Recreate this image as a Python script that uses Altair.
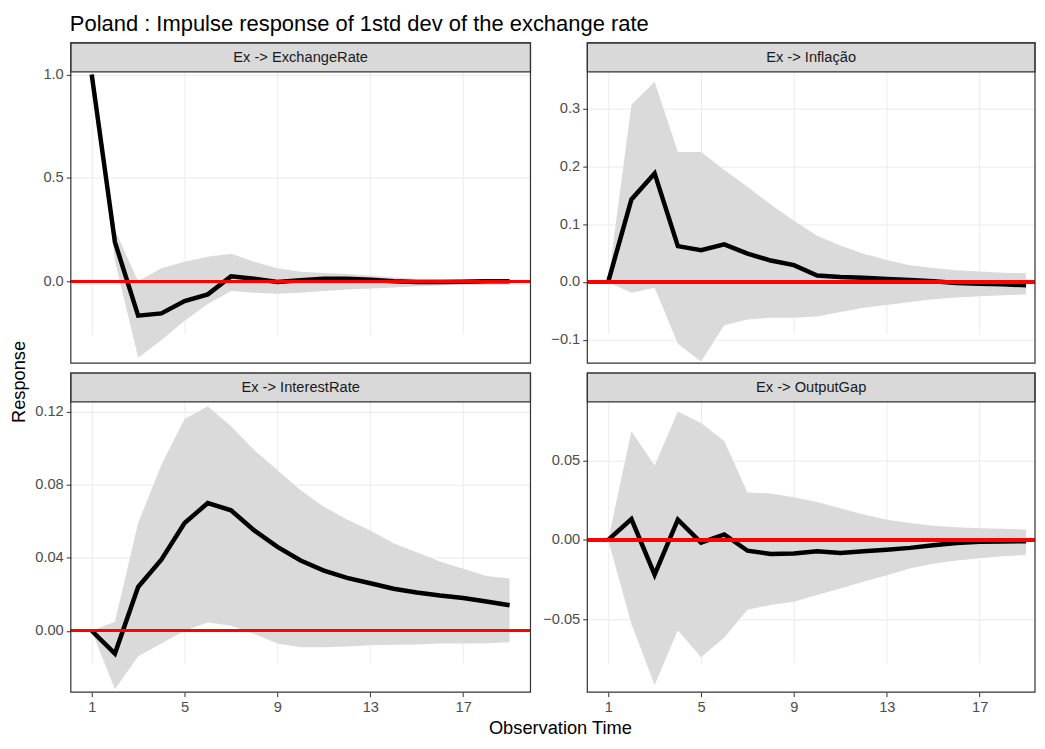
import altair as alt
import pandas as pd

FONT = "Liberation Sans"

t = list(range(1, 20))

# Ex -> ExchangeRate
er_resp = [1.0, 0.19, -0.166, -0.155, -0.095, -0.063, 0.024, 0.013, -0.003, 0.005,
           0.013, 0.013, 0.008, 0.0, -0.003, -0.003, -0.002, 0.0, 0.0]
er_lo = [1.0, 0.10, -0.37, -0.285, -0.19, -0.11, -0.047, -0.055, -0.06, -0.055,
         -0.047, -0.04, -0.035, -0.03, -0.024, -0.02, -0.017, -0.016, -0.015]
er_hi = [1.0, 0.25, 0.0, 0.063, 0.095, 0.119, 0.134, 0.095, 0.063, 0.047,
         0.04, 0.035, 0.028, 0.019, 0.013, 0.011, 0.01, 0.01, 0.01]

# Ex -> Inflação
inf_resp = [0.0, 0.143, 0.188, 0.062, 0.055, 0.065, 0.049, 0.037, 0.029, 0.011,
            0.0085, 0.007, 0.005, 0.0034, 0.001, -0.002, -0.003, -0.004, -0.006]
inf_lo = [0.0, -0.019, -0.01, -0.107, -0.138, -0.075, -0.065, -0.062, -0.062, -0.06,
          -0.052, -0.045, -0.04, -0.035, -0.03, -0.027, -0.025, -0.023, -0.022]
inf_hi = [0.0, 0.307, 0.347, 0.225, 0.225, 0.194, 0.165, 0.134, 0.106, 0.08,
          0.063, 0.049, 0.038, 0.029, 0.024, 0.020, 0.018, 0.016, 0.015]

# Ex -> InterestRate
ir_resp = [0.0, -0.0125, 0.024, 0.039, 0.059, 0.070, 0.066, 0.055, 0.046, 0.0385,
           0.033, 0.029, 0.026, 0.023, 0.021, 0.0193, 0.0179, 0.016, 0.014]
ir_lo = [0.0, -0.032, -0.014, -0.007, 0.0, 0.0045, 0.0027, -0.0018, -0.007, -0.009,
         -0.009, -0.0086, -0.008, -0.0077, -0.0075, -0.007, -0.007, -0.0068, -0.0063]
ir_hi = [0.0, 0.005, 0.059, 0.091, 0.116, 0.123, 0.112, 0.099, 0.088, 0.077,
         0.068, 0.061, 0.055, 0.048, 0.043, 0.038, 0.034, 0.030, 0.0286]

# Ex -> OutputGap
og_resp = [0.0, 0.0132, -0.0219, 0.0128, -0.0017, 0.0035, -0.0068, -0.0089, -0.0085, -0.0072,
           -0.0083, -0.0072, -0.0062, -0.005, -0.0033, -0.002, -0.0012, -0.001, -0.0008]
og_lo = [0.0, -0.053, -0.0915, -0.057, -0.074, -0.0616, -0.044, -0.041, -0.039, -0.0347,
         -0.0306, -0.0264, -0.0223, -0.018, -0.015, -0.013, -0.0116, -0.0103, -0.0095]
og_hi = [0.0, 0.0686, 0.047, 0.081, 0.0738, 0.0624, 0.030, 0.0293, 0.027, 0.024,
         0.020, 0.016, 0.0128, 0.0107, 0.009, 0.008, 0.0074, 0.007, 0.0066]

x_ticks = [1, 5, 9, 13, 17]

STRIP = 29
W_L, W_R = 461, 449
H1, H2 = 321, 320
E_L, E_R = 40, 46
X_DOM_L = [0.1, 19.9]
X_DOM_R = [0.1, 0.1 + W_R * 19.8 / W_L]


def panel(label, resp, lo, hi, ydom, yticks, yfmt, xdom, width, height, bottom, ext):
    df = pd.DataFrame({"t": t, "resp": resp, "lo": lo, "hi": hi})
    lab = pd.DataFrame({"label": [label]})
    if bottom:
        xaxis = alt.Axis(values=x_ticks, title=None, domain=False, grid=True,
                         gridColor="#ebebeb", labelFontSize=14.7, labelColor="#4d4d4d",
                         tickColor="#333333", tickSize=4.6, labelPadding=3, labelFont=FONT)
    else:
        xaxis = alt.Axis(values=x_ticks, title=None, domain=False, grid=True,
                         gridColor="#ebebeb", labels=False, ticks=False)
    xs = alt.Scale(domain=xdom, nice=False, zero=False)
    ys = alt.Scale(domain=ydom, nice=False, zero=False, range=[height, STRIP])
    yaxis = alt.Axis(values=yticks, format=yfmt, title=None, domain=False, grid=True,
                     gridColor="#ebebeb", labelFontSize=14.7, labelColor="#4d4d4d",
                     tickColor="#333333", tickSize=4.6, labelPadding=3, labelFont=FONT,
                     minExtent=ext, maxExtent=ext)
    X = alt.X("t:Q", scale=xs, axis=xaxis, title=None)
    base = alt.Chart(df)
    band = base.mark_area(color="#dadada").encode(
        x=X, y=alt.Y("lo:Q", scale=ys, axis=yaxis, title=None), y2="hi:Q")
    line = base.mark_line(color="black", strokeWidth=4.5).encode(
        x=X, y=alt.Y("resp:Q", scale=ys, axis=yaxis, title=None))
    zero = base.mark_rule(color="red", strokeWidth=2.5).encode(y=alt.datum(0))
    lc = alt.Chart(lab)
    strip = lc.mark_rect(fill="#d9d9d9", stroke="#333333", strokeWidth=1.2).encode(
        x=alt.value(0), x2=alt.value(width), y=alt.value(0), y2=alt.value(STRIP))
    stext = lc.mark_text(font=FONT, fontSize=14.7, color="#1a1a1a", baseline="middle",
                         align="center").encode(
        text="label:N", x=alt.value(width / 2), y=alt.value(STRIP / 2 + 1))
    border = lc.mark_rect(fill="transparent", stroke="#333333", strokeWidth=1.2).encode(
        x=alt.value(0), x2=alt.value(width), y=alt.value(0), y2=alt.value(height))
    return alt.layer(band, line, zero, strip, stext, border).properties(
        width=width, height=height)


tl = panel("Ex -> ExchangeRate", er_resp, er_lo, er_hi, [-0.395, 1.013],
           [0.0, 0.5, 1.0], ".1f", X_DOM_L, W_L, H1, False, E_L)
tr = panel("Ex -> Inflação", inf_resp, inf_lo, inf_hi, [-0.1406, 0.364],
           [-0.1, 0.0, 0.1, 0.2, 0.3], ".1f", X_DOM_R, W_R, H1, False, E_R)
bl = panel("Ex -> InterestRate", ir_resp, ir_lo, ir_hi, [-0.0336, 0.1254],
           [0.0, 0.04, 0.08, 0.12], ".2f", X_DOM_L, W_L, H2, True, E_L)
br = panel("Ex -> OutputGap", og_resp, og_lo, og_hi, [-0.096, 0.0871],
           [-0.05, 0.0, 0.05], ".2f", X_DOM_R, W_R, H2, True, E_R)

grid = alt.vconcat(alt.hconcat(tl, tr, spacing=9), alt.hconcat(bl, br, spacing=9), spacing=8)

resp_title = alt.Chart(pd.DataFrame({"label": ["Response"]})).mark_text(
    font=FONT, fontSize=18.3, color="black", angle=270, align="center",
    baseline="alphabetic").encode(
    text="label:N", x=alt.value(17), y=alt.value(340)).properties(width=22, height=H1 + H2 + 9)

x_title = alt.Chart(pd.DataFrame({"label": ["Observation Time"]})).mark_text(
    font=FONT, fontSize=18.3, color="black", align="center",
    baseline="alphabetic").encode(
    text="label:N", x=alt.value(554), y=alt.value(18.7)).properties(width=1000, height=19)

chart = alt.vconcat(
    alt.hconcat(resp_title, grid, spacing=1),
    x_title,
    spacing=0,
).properties(
    title=alt.TitleParams("Poland : Impulse response of 1std dev of the exchange rate",
                          anchor="start", fontSize=22, font=FONT, fontWeight="normal",
                          color="black", offset=6, dx=62),
    padding={"left": 0, "top": 4, "right": 0, "bottom": 0},
    background="white",
).configure_view(strokeWidth=0)

chart.save("out.html", embed_options={"renderer": "svg", "actions": False})
